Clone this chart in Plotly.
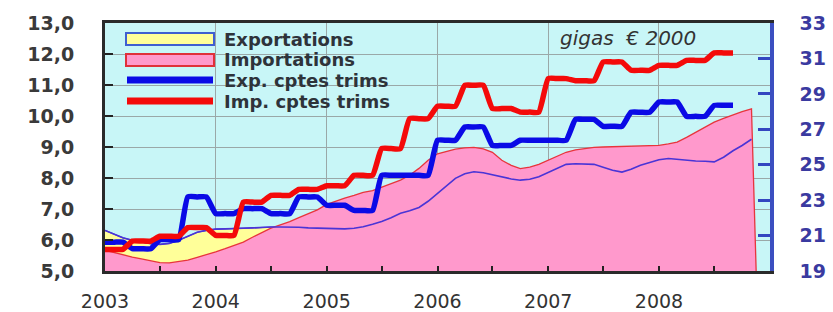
import plotly.graph_objects as go
import pandas as pd

# ---------------- data ----------------
months = pd.date_range("2003-01-01", "2008-12-01", freq="MS")

# monthly smoothed series (left axis, gigas EUR 2000)
importations = [5.67, 5.59, 5.52, 5.45, 5.39, 5.32, 5.27, 5.26, 5.30, 5.35, 5.44, 5.54,
                5.62, 5.72, 5.83, 5.93, 6.09, 6.25, 6.38, 6.49, 6.59, 6.72, 6.85, 6.97,
                7.15, 7.26, 7.35, 7.44, 7.54, 7.59, 7.70, 7.80, 7.93, 8.09, 8.31, 8.57,
                8.78, 8.86, 8.93, 8.97, 8.99, 8.94, 8.83, 8.57, 8.41, 8.30, 8.35, 8.44,
                8.57, 8.70, 8.83, 8.91, 8.96, 8.99, 9.00, 9.01, 9.02, 9.02, 9.03, 9.04,
                9.05, 9.10, 9.16, 9.31, 9.47, 9.64, 9.80, 9.92, 10.04, 10.14, 10.23, 0.0]
exportations = [6.31, 6.18, 6.07, 5.99, 5.93, 5.88, 5.86, 5.89, 5.99, 6.12, 6.25, 6.31,
                6.35, 6.36, 6.36, 6.38, 6.39, 6.41, 6.42, 6.42, 6.42, 6.41, 6.39, 6.38,
                6.37, 6.36, 6.36, 6.38, 6.43, 6.51, 6.60, 6.72, 6.86, 6.94, 7.05, 7.25,
                7.50, 7.76, 7.99, 8.14, 8.20, 8.17, 8.10, 8.04, 7.97, 7.93, 7.96, 8.04,
                8.17, 8.31, 8.44, 8.46, 8.46, 8.44, 8.35, 8.25, 8.19, 8.28, 8.41, 8.51,
                8.59, 8.63, 8.60, 8.57, 8.55, 8.54, 8.52, 8.67, 8.88, 9.05, 9.25]

# quarterly accounts (right axis), Q1 2003 .. Q3 2008
exp_cptes_trims = [20.63, 20.26, 20.77, 23.18, 22.24, 22.52, 22.24, 23.18, 22.71, 22.42,
                   24.40, 24.40, 26.38, 27.13, 26.09, 26.38, 26.38, 27.56, 27.17, 27.96,
                   28.54, 27.73, 28.35]
imp_cptes_trims = [20.22, 20.69, 20.96, 21.45, 21.01, 22.89, 23.27, 23.61, 23.81, 24.40,
                   25.91, 27.60, 28.30, 29.48, 28.17, 27.97, 29.86, 29.74, 30.80, 30.33,
                   30.61, 30.89, 31.31]

year_labels = ["2003", "2004", "2005", "2006", "2007", "2008"]
left_ticks = [5, 6, 7, 8, 9, 10, 11, 12, 13]
left_labels = ["5,0", "6,0", "7,0", "8,0", "9,0", "10,0", "11,0", "12,0", "13,0"]
right_ticks = [19, 21, 23, 25, 27, 29, 31, 33]
legend_labels = ["Exportations", "Importations", "Exp. cptes trims", "Imp. cptes trims"]
unit_label = "gigas\u00a0 € 2000"

# quarterly values held for the three months of each quarter
step_x = months[:3 * len(exp_cptes_trims)]
exp_step = [v for v in exp_cptes_trims for _ in range(3)]
imp_step = [v for v in imp_cptes_trims for _ in range(3)]

# ---------------- styling ----------------
W, H = 833, 312
PL, PR, PT, PB = 105, 770, 23, 271
BG = "#c8f6f7"
FONT = "DejaVu Sans"


def fx(px):
    return (px - PL) / (PR - PL)


def fy(py):
    return (PB - py) / (PB - PT)


fig = go.Figure()
fig.add_trace(go.Scatter(x=months[:len(exportations)], y=exportations, mode="lines",
                         fill="tozeroy", fillcolor="#ffff99",
                         line=dict(color="#4a3ad8", width=1.2), hoverinfo="skip"))
fig.add_trace(go.Scatter(x=months[:len(importations)], y=importations, mode="lines",
                         fill="tozeroy", fillcolor="#ff99cc",
                         line=dict(color="#e8343c", width=1.3), hoverinfo="skip"))
fig.add_trace(go.Scatter(x=months[:len(exportations)], y=exportations, mode="lines",
                         line=dict(color="#4a34d6", width=1.6), hoverinfo="skip"))
fig.add_trace(go.Scatter(x=step_x, y=exp_step, mode="lines", yaxis="y2",
                         line=dict(color="#0a0ae6", width=5.5, shape="spline", smoothing=0.45),
                         hoverinfo="skip"))
fig.add_trace(go.Scatter(x=step_x, y=imp_step, mode="lines", yaxis="y2",
                         line=dict(color="#f40a0a", width=5.5, shape="spline", smoothing=0.45),
                         hoverinfo="skip"))

shapes = []
# boxes behind the legend and unit label (hide gridlines)
for (x0, x1, y0, y1) in [(PL, 485, PT, 58), (PL, 440, 58, 114), (485, PR, PT, 50)]:
    shapes.append(dict(type="rect", xref="paper", yref="paper", layer="between",
                       x0=fx(x0), x1=fx(x1), y0=fy(y1), y1=fy(y0),
                       fillcolor=BG, line=dict(width=0)))
# legend symbols
shapes.append(dict(type="rect", xref="paper", yref="paper",
                   x0=fx(126), x1=fx(214), y0=fy(45), y1=fy(33),
                   fillcolor="#ffff99", line=dict(color="#3f5fd0", width=2)))
shapes.append(dict(type="rect", xref="paper", yref="paper",
                   x0=fx(126), x1=fx(214), y0=fy(66), y1=fy(54),
                   fillcolor="#ff99cc", line=dict(color="#e0303a", width=2)))
shapes.append(dict(type="line", xref="paper", yref="paper",
                   x0=fx(127), x1=fx(213), y0=fy(80), y1=fy(80),
                   line=dict(color="#0a0ae6", width=7)))
shapes.append(dict(type="line", xref="paper", yref="paper",
                   x0=fx(127), x1=fx(213), y0=fy(101), y1=fy(101),
                   line=dict(color="#f40a0a", width=7)))

annotations = []
for lab, py in zip(legend_labels, [39, 60, 80, 101]):
    annotations.append(dict(text=lab, xref="paper", yref="paper", x=fx(222), y=fy(py),
                            xanchor="left", yanchor="middle", showarrow=False,
                            font=dict(family=FONT, size=18, color="#2e333a", weight="bold")))
annotations.append(dict(text=unit_label, xref="paper", yref="paper", x=fx(628), y=fy(38),
                        xanchor="center", yanchor="middle", showarrow=False,
                        font=dict(family=FONT, size=20, color="#333", style="italic")))

fig.update_layout(
    width=W, height=H,
    margin=dict(l=PL, r=W - PR, t=PT, b=H - PB, pad=0, autoexpand=False),
    paper_bgcolor="white", plot_bgcolor=BG,
    showlegend=False,
    shapes=shapes, annotations=annotations,
    xaxis=dict(type="date", range=["2003-01-01", "2009-01-01"], automargin=False,
               tickmode="array",
               tickvals=[pd.Timestamp(f"{y}-01-01") for y in year_labels],
               ticktext=year_labels,
               ticks="inside", ticklen=5, tickwidth=2, tickcolor="#222",
               minor=dict(dtick="M6", ticks="inside", ticklen=5, tickwidth=2,
                          tickcolor="#222", showgrid=False),
               showline=True, linecolor="#2a2a2a", linewidth=2.5, mirror=True,
               showgrid=True, gridcolor="#9aa8a8", gridwidth=1,
               tickfont=dict(family=FONT, size=19, color="#333"),
               ticklabelstandoff=11),
    yaxis=dict(range=[5, 13], tickmode="array", tickvals=left_ticks, ticktext=left_labels,
               automargin=False,
               ticks="inside", ticklen=8, tickwidth=2, tickcolor="#222",
               showline=True, linecolor="#2a2a2a", linewidth=3,
               showgrid=True, gridcolor="#9aa8a8", gridwidth=1, zeroline=False,
               tickfont=dict(family=FONT, size=19, color="#3a3a3a", weight="bold"),
               ticklabelstandoff=24),
    yaxis2=dict(range=[19, 33], overlaying="y", side="right", automargin=False,
                tickmode="array", tickvals=right_ticks,
                ticks="inside", ticklen=12, tickwidth=2.5, tickcolor="#3346c0",
                showline=True, linecolor="#3b4fc0", linewidth=3.5,
                showgrid=False, zeroline=False,
                tickfont=dict(family=FONT, size=19, color="#3a3aa0", weight="bold"),
                ticklabelstandoff=22),
)

fig.write_html("out.html", config={"displayModeBar": False},
               post_script="document.body.style.margin='0';document.body.style.padding='0';"
                           "document.body.style.overflow='hidden';")
